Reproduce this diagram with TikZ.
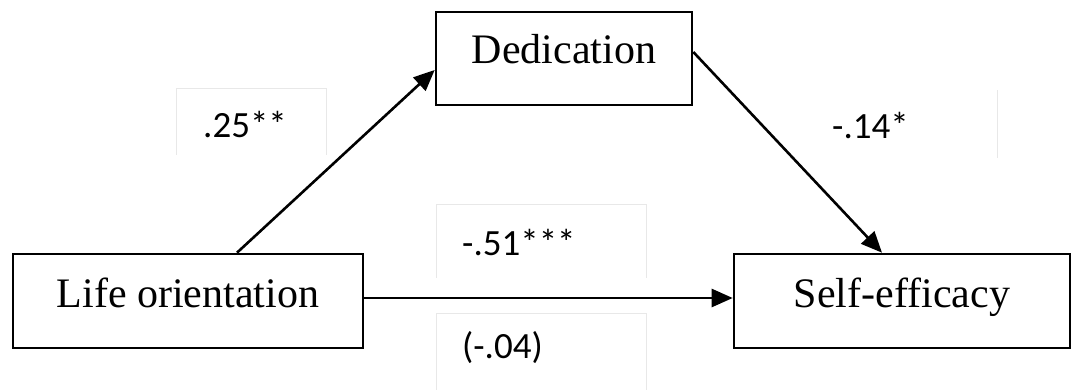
\documentclass[tikz,border=0pt]{standalone}
\usepackage{fontspec}
\setmainfont{Liberation Serif}
\newfontfamily\coeffont{Carlito}
\usetikzlibrary{arrows.meta}

\begin{document}
\begin{tikzpicture}[x=1pt,y=-1pt,
    box/.style={draw,line width=2.6pt,inner sep=0pt,minimum height=94pt,
        font=\fontsize{42}{50}\selectfont,text height=30pt,text depth=17pt},
    coef/.style={font=\coeffont\fontsize{37}{44}\selectfont,anchor=base west,inner sep=0pt},
    link/.style={line width=2.6pt,-{Triangle[length=21pt,width=18pt]}},
    faint/.style={gray!18,line width=1pt}]
    \useasboundingbox (0,0) rectangle (1071,390);
    % Variables
    \node[box,minimum width=256pt,minimum height=93pt,text depth=19pt] (ded) at (564,58.5) {Dedication};
    \node[box,minimum width=350pt] (life) at (188,301) {Life orientation};
    \node[box,minimum width=336pt] (self) at (902,301) {Self-efficacy};
    % Paths
    \draw[link] ([xshift=49pt]life.north) -- ([yshift=-11.5pt]ded.west);
    \draw[link] ([yshift=6.5pt]ded.east) -- ([xshift=-20pt]self.north);
    \draw[link] ([yshift=3pt]life.east) -- ([yshift=3pt]self.west);
    % Faint label frames
    \draw[faint] (176,155) |- (326,89) -- (326,155);
    \draw[faint] (997,90) -- (997,158);
    \draw[faint] (436,278) |- (646,205) -- (646,278);
    \draw[faint] (436,390) |- (646,313) -- (646,390);
    % Coefficients
    \node[coef] (a) at (203,138) {.25**};
    \node[coef] (b) at (832,139) {-.14*};
    \node[coef] (c) at (462,255) {-.51***};
    \node[coef] (cp) at (462,358) {(-.04)};
\end{tikzpicture}
\end{document}
